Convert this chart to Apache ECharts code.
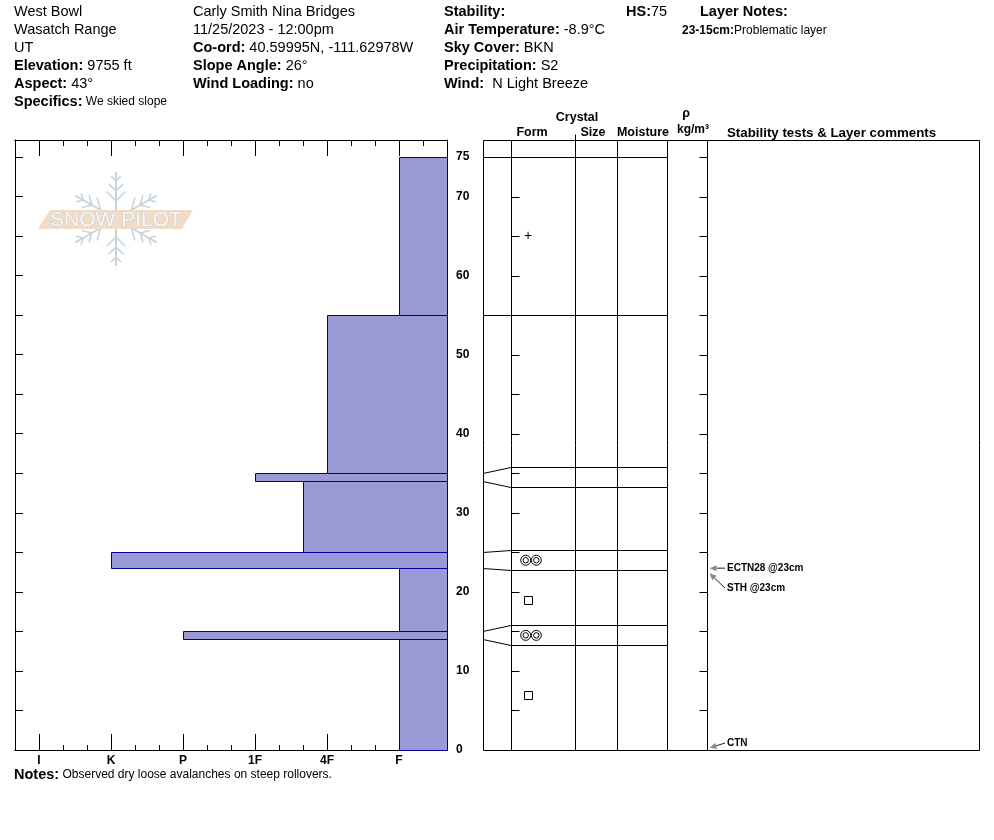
<!DOCTYPE html>
<html>
<head>
<meta charset="utf-8">
<title>Snow profile</title>
<script src="https://cdn.jsdelivr.net/npm/echarts@6/dist/echarts.min.js"></script>
<style>
  html, body { margin: 0; padding: 0; background: #fff; }
  #chart { width: 994px; height: 840px; }
</style>
</head>
<body>
<div id="chart"></div>
<script>
// layers, depth in cm above ground
const layerTop = [75, 55, 35, 34, 25, 23, 15, 14];
const layerBottom = [55, 35, 34, 25, 23, 15, 14, 0];
const layerHardness = ['F', '4F', '1F', '4F+', 'K', 'F', 'P', 'F'];
const layerForm = ['PP', '', '', '', 'MFcr', 'FC', 'MFcr', 'FC'];

const hardnessLabels = ['F', '4F', '1F', 'P', 'K', 'I'];
const depthTicks = [0, 5, 10, 15, 20, 25, 30, 35, 40, 45, 50, 55, 60, 65, 70, 75];
const depthLabels = [0, 10, 20, 30, 40, 50, 60, 70, 75];

// stability tests
const testDepth = [23, 23, 0];
const testNames = ['ECTN28 @23cm', 'STH @23cm', 'CTN'];

const siteInfo = [['', 'West Bowl'], ['', 'Wasatch Range'], ['', 'UT'], ['Elevation:', ' 9755 ft'], ['Aspect:', ' 43°'], ['Specifics:', ' We skied slope', 12]];
const obsInfo = [['', 'Carly Smith Nina Bridges'], ['', '11/25/2023 - 12:00pm'], ['Co-ord:', ' 40.59995N, -111.62978W'], ['Slope Angle:', ' 26°'], ['Wind Loading:', ' no']];
const weatherInfo = [['Stability:', ''], ['Air Temperature:', ' -8.9°C'], ['Sky Cover:', ' BKN'], ['Precipitation:', ' S2'], ['Wind:', '  N Light Breeze']];
const notesText = 'Observed dry loose avalanches on steep rollovers.';

const FONT = 'Arial, "Liberation Sans", sans-serif';
const DEPTH_MAX = 77.15;   // grid top edge in cm
const HARD_MAX = 18;
// table column offsets (px from table left)
const cols = [0, 28, 92, 134, 184, 224, 496];

const crisp = v => Math.round(v) + 0.5;

function hardnessValue(h) {
  const base = h.replace(/[+-]$/, '');
  let v = 2 + 3 * hardnessLabels.indexOf(base);
  if (h.endsWith('+')) v += 1;
  if (h.endsWith('-')) v -= 1;
  return v;
}

const thirdTicks = [];
for (let i = 1; i < HARD_MAX; i++) thirdTicks.push(i);
const hardTicks = hardnessLabels.map((h, i) => 2 + 3 * i);

function hardAxis(position, ticks, len, withLabels) {
  return {
    type: 'value', gridIndex: 0, position: position, min: 0, max: HARD_MAX, interval: 1, inverse: true,
    splitLine: { show: false },
    axisLine: { show: true, onZero: false, lineStyle: { color: '#000', width: 1 } },
    axisTick: { show: true, inside: true, length: len, customValues: ticks, lineStyle: { color: '#000' } },
    axisLabel: withLabels ? {
      show: true, customValues: hardTicks, margin: 5,
      formatter: v => hardnessLabels[(v - 2) / 3] || '',
      color: '#000', fontWeight: 'bold', fontSize: 12, fontFamily: FONT
    } : { show: false }
  };
}

function depthAxis(gridIndex, position, showLine, labels) {
  return {
    type: 'value', gridIndex: gridIndex, position: position, min: 0, max: DEPTH_MAX, interval: 5,
    splitLine: { show: false },
    axisLine: { show: showLine, onZero: false, lineStyle: { color: '#000', width: 1 } },
    axisTick: { show: showLine, inside: true, length: 8, customValues: depthTicks, lineStyle: { color: '#000' } },
    axisLabel: labels ? {
      show: true, customValues: depthLabels, margin: 9,
      color: '#000', fontWeight: 'bold', fontSize: 12, fontFamily: FONT
    } : { show: false }
  };
}

// header text lines
function infoBlock(rows, x, y0) {
  return rows.map((r, i) => ({
    type: 'text', x: x, y: y0 + 18 * i,
    style: {
      text: (r[0] ? '{b|' + r[0] + '}' : '') + (r[1] ? '{v|' + r[1] + '}' : ''),
      rich: {
        b: { fontWeight: 'bold', fontSize: 14.5, fontFamily: FONT, fill: '#000' },
        v: { fontSize: r[2] || 14.5, fontFamily: FONT, fill: '#000' }
      },
      verticalAlign: 'middle', fill: '#000'
    }
  }));
}

function label(text, x, y, size, bold, align) {
  return {
    type: 'text', x: x, y: y,
    style: {
      text: text, fill: '#000', font: (bold ? 'bold ' : '') + size + 'px ' + FONT,
      align: align || 'left', verticalAlign: 'middle'
    }
  };
}

// Snow Pilot watermark
function watermark(cx, cy) {
  const els = [];
  const c = '#C9D3DB';
  for (let a = 0; a < 6; a++) {
    const ang = Math.PI / 2 + a * Math.PI / 3;
    const dx = Math.cos(ang), dy = -Math.sin(ang);
    els.push({ type: 'line', shape: { x1: cx, y1: cy, x2: cx + dx * 47, y2: cy + dy * 47 }, style: { stroke: c, lineWidth: 2 }, silent: true });
    [18, 28, 38].forEach((d, k) => {
      const bx = cx + dx * d, by = cy + dy * d;
      const bl = [13, 10, 7][k];
      [-1, 1].forEach(s => {
        const ba = ang + s * Math.PI / 4;
        els.push({ type: 'line', shape: { x1: bx, y1: by, x2: bx + Math.cos(ba) * bl, y2: by - Math.sin(ba) * bl }, style: { stroke: c, lineWidth: 1.6 }, silent: true });
      });
    });
  }
  els.push({ type: 'polygon', shape: { points: [[38, 229], [50, 210], [193, 210], [182, 229]] }, style: { fill: '#F1DCC8' }, silent: true });
  els.push({
    type: 'text', x: 116, y: 220, silent: true,
    style: { text: 'SNOW PILOT', font: '21px ' + FONT, fill: '#F7F7F7', stroke: '#C8C8C8', lineWidth: 1, align: 'center', verticalAlign: 'middle' }
  });
  return els;
}

const graphics = [].concat(
  watermark(116, 219),
  infoBlock(siteInfo, 14, 12),
  infoBlock(obsInfo, 193, 12),
  infoBlock(weatherInfo, 444, 12),
  [
    {
      type: 'text', x: 626, y: 12,
      style: { text: '{b|HS:}{v|75}', rich: { b: { fontWeight: 'bold', fontSize: 14.5, fontFamily: FONT }, v: { fontSize: 14.5, fontFamily: FONT } }, verticalAlign: 'middle' }
    },
    label('Layer Notes:', 700, 12, 14.5, true),
    {
      type: 'text', x: 682, y: 31,
      style: { text: '{b|23-15cm:}{v|Problematic layer}', rich: { b: { fontWeight: 'bold', fontSize: 12, fontFamily: FONT }, v: { fontSize: 12, fontFamily: FONT } }, verticalAlign: 'middle' }
    },
    label('Crystal', 577, 118, 12.5, true, 'center'),
    label('Form', 532, 133, 12.5, true, 'center'),
    label('Size', 593, 133, 12.5, true, 'center'),
    label('Moisture', 643, 133, 12.5, true, 'center'),
    label('ρ', 686, 114, 12.5, true, 'center'),
    label('kg/m³', 693, 130, 12, true, 'center'),
    label('Stability tests & Layer comments', 727, 133, 13.3, true),
    {
      type: 'text', x: 14, y: 775,
      style: { text: '{b|Notes:}{v| ' + notesText + '}', rich: { b: { fontWeight: 'bold', fontSize: 14.5, fontFamily: FONT }, v: { fontSize: 12, fontFamily: FONT } }, verticalAlign: 'middle' }
    }
  ]
);

const chart = echarts.init(document.getElementById('chart'), null, { renderer: 'canvas' });

const option = {
  animation: false,
  backgroundColor: '#fff',
  graphic: graphics,
  grid: [
    { left: 15, top: 140, width: 432, height: 610 },
    { left: 483, top: 140, width: 496, height: 610 }
  ],
  xAxis: [
    hardAxis('top', thirdTicks, 6, false),
    hardAxis('top', hardTicks, 16, false),
    hardAxis('bottom', thirdTicks, 5, false),
    hardAxis('bottom', hardTicks, 16, true),
    { type: 'value', gridIndex: 1, min: 0, max: cols[cols.length - 1], show: false }
  ],
  yAxis: [
    depthAxis(0, 'left', true, false),
    depthAxis(0, 'right', true, true),
    depthAxis(1, 'left', false, false)
  ],
  series: [
    {
      // hand hardness bars
      type: 'custom', xAxisIndex: 0, yAxisIndex: 0,
      data: layerTop.map((t, i) => [t, layerBottom[i], hardnessValue(layerHardness[i])]),
      encode: { x: 2, y: [0, 1] },
      renderItem: function (params, api) {
        const p1 = api.coord([api.value(2), api.value(0)]);
        const p2 = api.coord([0, api.value(1)]);
        const x1 = crisp(Math.min(p1[0], p2[0])), x2 = crisp(Math.max(p1[0], p2[0]));
        const y1 = crisp(p1[1]), y2 = crisp(p2[1]);
        return {
          type: 'rect', z2: 1,
          shape: { x: x1, y: y1, width: x2 - x1, height: y2 - y1 },
          style: { fill: '#9A9AD6', stroke: '#000099', lineWidth: 1 }
        };
      }
    },
    {
      // table frame, columns and depth ticks
      type: 'custom', xAxisIndex: 4, yAxisIndex: 2,
      data: [[0, 0]],
      renderItem: function (params, api) {
        const yTop = crisp(api.coord([0, DEPTH_MAX])[1]);
        const yBot = crisp(api.coord([0, 0])[1]);
        const xs = cols.map(c => crisp(api.coord([c, 0])[0]));
        const children = [];
        children.push({ type: 'rect', shape: { x: xs[0], y: yTop, width: xs[6] - xs[0], height: yBot - yTop }, style: { fill: 'none', stroke: '#000', lineWidth: 1 } });
        for (let i = 1; i <= 5; i++) {
          children.push({ type: 'line', shape: { x1: xs[i], y1: yTop, x2: xs[i], y2: yBot }, style: { stroke: '#000', lineWidth: 1 } });
        }
        children.push({ type: 'line', shape: { x1: xs[2], y1: yTop - 6, x2: xs[2], y2: yTop }, style: { stroke: '#000', lineWidth: 1 } });
        depthTicks.forEach(d => {
          const y = crisp(api.coord([0, d])[1]);
          children.push({ type: 'line', shape: { x1: xs[1], y1: y, x2: xs[1] + 8, y2: y }, style: { stroke: '#000', lineWidth: 1 } });
          children.push({ type: 'line', shape: { x1: xs[5] - 8, y1: y, x2: xs[5], y2: y }, style: { stroke: '#000', lineWidth: 1 } });
        });
        return { type: 'group', children: children };
      }
    },
    {
      // layer boundaries, spread apart where layers are thin
      type: 'custom', xAxisIndex: 4, yAxisIndex: 2,
      data: [[0, 0]],
      renderItem: function (params, api) {
        const ys = layerTop.map(d => api.coord([0, d])[1]);
        const disp = ys.slice();
        for (let i = 0; i < ys.length - 1; i++) {
          if (ys[i + 1] - ys[i] < 20) {
            const c = (ys[i] + ys[i + 1]) / 2;
            disp[i] = c - 10; disp[i + 1] = c + 10; i++;
          }
        }
        const x0 = api.coord([cols[0], 0])[0], x1 = api.coord([cols[1], 0])[0], x4 = api.coord([cols[4], 0])[0];
        const children = ys.map((y, i) => ({
          type: 'polyline',
          shape: { points: [[x0, crisp(y)], [x1, crisp(disp[i])], [x4, crisp(disp[i])]] },
          style: { stroke: '#000', lineWidth: 1, fill: null }
        }));
        return { type: 'group', children: children };
      }
    },
    {
      // grain form symbols
      type: 'custom', xAxisIndex: 4, yAxisIndex: 2,
      data: layerTop.map((t, i) => [t, layerBottom[i]]),
      encode: { y: [0, 1] },
      renderItem: function (params, api) {
        const form = layerForm[params.dataIndex];
        const y = api.coord([0, (api.value(0) + api.value(1)) / 2])[1];
        const x = api.coord([cols[1] + 17, 0])[0];
        const st = { stroke: '#000', lineWidth: 1, fill: 'none' };
        if (form === 'PP') {
          return { type: 'text', x: x, y: y, style: { text: '+', font: '14px ' + FONT, fill: '#000', align: 'center', verticalAlign: 'middle' } };
        }
        if (form === 'FC') {
          return { type: 'rect', shape: { x: crisp(x - 4), y: crisp(y - 4), width: 8, height: 8 }, style: st };
        }
        if (form === 'MFcr') {
          const cx = x + 3;
          return {
            type: 'group', children: [
              { type: 'circle', shape: { cx: cx - 5.3, cy: y, r: 5 }, style: st },
              { type: 'circle', shape: { cx: cx - 5.3, cy: y, r: 2.7 }, style: st },
              { type: 'circle', shape: { cx: cx + 5.3, cy: y, r: 5 }, style: st },
              { type: 'circle', shape: { cx: cx + 5.3, cy: y, r: 2.7 }, style: st }
            ]
          };
        }
        return null;
      }
    },
    {
      // stability tests
      type: 'custom', xAxisIndex: 4, yAxisIndex: 2,
      data: [[0, 0]],
      renderItem: function (params, api) {
        const xLine = api.coord([cols[5], 0])[0];
        const yBot = api.coord([0, 0])[1];
        const children = [];
        let lastLabel = -Infinity;
        testDepth.forEach((d, i) => {
          const y = api.coord([0, d])[1];
          let same = 0;
          for (let j = 0; j < i; j++) if (testDepth[j] === d) same++;
          let ly = Math.max(y, lastLabel + 20);
          ly = Math.min(ly, yBot - 7);
          lastLabel = ly;
          const tx = xLine + 2.5, ty = Math.min(y + 5 * same, yBot - 2);
          const sx = xLine + 18, sy = ly;
          const ang = Math.atan2(ty - sy, tx - sx);
          const hl = 7, hw = 3;
          const bx = tx - Math.cos(ang) * hl, by = ty - Math.sin(ang) * hl;
          children.push({ type: 'line', shape: { x1: sx, y1: sy, x2: bx, y2: by }, style: { stroke: '#222', lineWidth: 1 } });
          children.push({
            type: 'polygon',
            shape: { points: [[tx, ty], [bx - Math.sin(ang) * hw, by + Math.cos(ang) * hw], [bx + Math.sin(ang) * hw, by - Math.cos(ang) * hw]] },
            style: { fill: '#888' }
          });
          children.push({ type: 'text', x: sx + 2, y: ly, style: { text: testNames[i], font: 'bold 10px ' + FONT, fill: '#000', verticalAlign: 'middle' } });
        });
        return { type: 'group', children: children };
      }
    }
  ]
};

chart.setOption(option);
</script>
</body>
</html>
